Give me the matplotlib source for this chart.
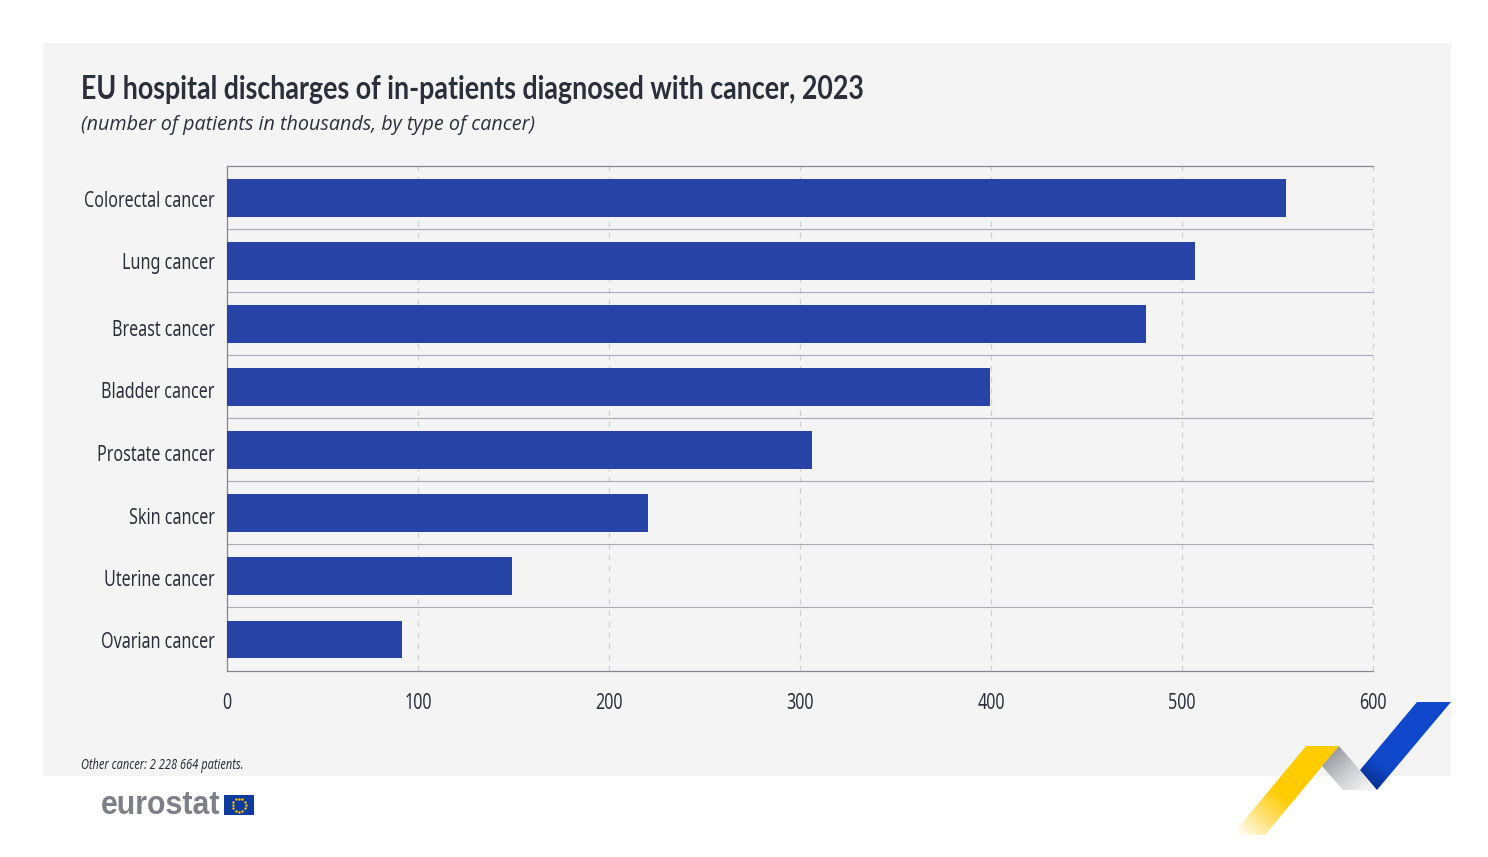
import os, tempfile
import numpy as np
import matplotlib
matplotlib.use("Agg")
import matplotlib.pyplot as plt
from matplotlib import font_manager as fm
from matplotlib.font_manager import FontProperties as FP
from matplotlib.patches import Polygon, Rectangle
from matplotlib.colors import LinearSegmentedColormap
from matplotlib.transforms import ScaledTranslation
from fontTools.ttLib import TTFont

categories = ["Colorectal cancer", "Lung cancer", "Breast cancer", "Bladder cancer",
              "Prostate cancer", "Skin cancer", "Uterine cancer", "Ovarian cancer"]
values = [554.5, 507, 481, 399.3, 306.5, 220.3, 149.3, 91.4]
xticks = [0, 100, 200, 300, 400, 500, 600]
title = "EU hospital discharges of in-patients diagnosed with cancer, 2023"
subtitle = "(number of patients in thousands, by type of cancer)"
note = "Other cancer: 2 228 664 patients."

TMP = tempfile.mkdtemp()

def condensed(family, sx, weight="normal", style="normal"):
    """Make a horizontally condensed copy of an installed font; text stays real text."""
    src = fm.findfont(FP(family=family, weight=weight, style=style))
    f = TTFont(src)
    for tag in ("fvar", "gvar", "HVAR", "MVAR", "avar", "STAT", "kern", "GPOS"):
        if tag in f:
            del f[tag]
    glyf = f["glyf"]
    for name in glyf.keys():
        g = glyf[name]
        if g.isComposite():
            for c in g.components:
                c.x = int(round(c.x * sx))
        elif g.numberOfContours > 0:
            g.coordinates.scale((sx, 1))
    hmtx = f["hmtx"]
    for name, (adv, lsb) in list(hmtx.metrics.items()):
        hmtx.metrics[name] = (int(round(adv * sx)), int(round(lsb * sx)))
    path = os.path.join(TMP, f"{family.replace(' ', '')}_{weight}_{style}_{sx}.ttf")
    f.save(path)
    return path

F_REG = condensed("Noto Sans", 0.72)
F_BOLD = condensed("Lato", 0.80, weight="bold")
F_ITAL = condensed("Noto Sans", 0.72, style="italic")
F_LOGO = condensed("Liberation Sans", 0.93, weight="bold")

TXT = "#2b2f3a"
W, H = 1488, 857
fig = plt.figure(figsize=(W / 100, H / 100), dpi=100, facecolor="white")

bg = fig.add_axes([0, 0, 1, 1], zorder=0)
bg.set_xlim(0, W); bg.set_ylim(H, 0); bg.axis("off")
bg.add_patch(Rectangle((43, 43), 1408, 733, fc="#f4f4f5", ec="none"))

ax = fig.add_axes([227 / W, 1 - 670.5 / H, 1146 / W, 504.5 / H], zorder=1)
ax.patch.set_alpha(0)
y = np.arange(len(categories))
ax.barh(y + 0.008, values, height=0.6, color="#2743a5", zorder=3)
ax.set_xlim(0, 600)
ax.set_ylim(len(categories) - 0.5, -0.5)
ax.set_xticks(xticks)
ax.set_yticks(y, categories)
ax.xaxis.grid(True, color="#cfcfd2", lw=0.8, ls=(0, (5, 5)), zorder=1, clip_on=False)
ax.set_yticks(y[:-1] + 0.5, minor=True)
ax.yaxis.grid(True, which="minor", color="#a9abb0", lw=0.8, zorder=2)
ax.yaxis.grid(False, which="major")
ax.tick_params(which="both", length=0)
ax.tick_params(axis="y", pad=9)
ax.tick_params(axis="x", pad=16)
label_shift_px = [1, 0, 4, 3, 3, 3, 2, 1]
for lab, dy in zip(ax.get_yticklabels(), label_shift_px):
    lab.set_fontproperties(FP(fname=F_REG, size=16.1)); lab.set_color(TXT)
    lab.set_transform(lab.get_transform() + ScaledTranslation(0, -dy / 100, fig.dpi_scale_trans))
for lab in ax.get_xticklabels():
    lab.set_fontproperties(FP(fname=F_REG, size=16.1)); lab.set_color(TXT)
for s in ["top", "left", "bottom"]:
    ax.spines[s].set_color("#85878f")
    ax.spines[s].set_linewidth(0.9)
ax.spines["right"].set_visible(False)

bg.text(81, 99, title, fontproperties=FP(fname=F_BOLD, size=24.1), color=TXT, va="baseline", ha="left")
bg.text(81, 130, subtitle, fontfamily="Open Sans", style="italic", fontsize=14.2, color=TXT, va="baseline", ha="left")
bg.text(81, 769, note, fontproperties=FP(fname=F_ITAL, size=11), color=TXT, va="baseline", ha="left")

bg.text(101, 814, "eurostat", fontproperties=FP(fname=F_LOGO, size=23.5), color="#7d8088", va="baseline", ha="left")
bg.add_patch(Rectangle((224, 795), 30, 20, fc="#0f3a9e", ec="none"))
a = np.arange(12) * 2 * np.pi / 12
bg.scatter(239 + 6.5 * np.cos(a), 805 + 6.5 * np.sin(a), s=3, color="#ffcc00", lw=0, zorder=3)

def ribbon(pts, colors, start, end):
    cmap = LinearSegmentedColormap.from_list("r", colors)
    xs = np.linspace(min(p[0] for p in pts), max(p[0] for p in pts), 200)
    ys = np.linspace(min(p[1] for p in pts), max(p[1] for p in pts), 200)
    X, Y = np.meshgrid(xs, ys)
    d = np.array(end) - np.array(start)
    t = np.clip(((X - start[0]) * d[0] + (Y - start[1]) * d[1]) / (d @ d), 0, 1)
    im = bg.imshow(t, cmap=cmap, vmin=0, vmax=1, aspect="auto", zorder=2,
                   extent=[xs[0], xs[-1], ys[-1], ys[0]], interpolation="bilinear")
    poly = Polygon(pts, closed=True, transform=bg.transData, fc="none", ec="none")
    bg.add_patch(poly)
    im.set_clip_path(poly)

ribbon([(1306, 746), (1339, 746), (1265, 835), (1232, 835)],
       ["#ffffff", "#ffe27a", "#ffcc00", "#ffcc00"], (1240, 838), (1300, 770))
ribbon([(1339, 746), (1377, 790), (1343, 790), (1322, 766)],
       ["#94969c", "#c9cacd", "#f2f2f2"], (1328, 752), (1362, 792))
ribbon([(1417, 702), (1451, 702), (1377, 790), (1360, 770)],
       ["#0a2a85", "#0f47c8", "#1048cc"], (1368, 790), (1400, 745))
bg.set_xlim(0, W); bg.set_ylim(H, 0)

fig.savefig("out.png", dpi=100, facecolor="white")
